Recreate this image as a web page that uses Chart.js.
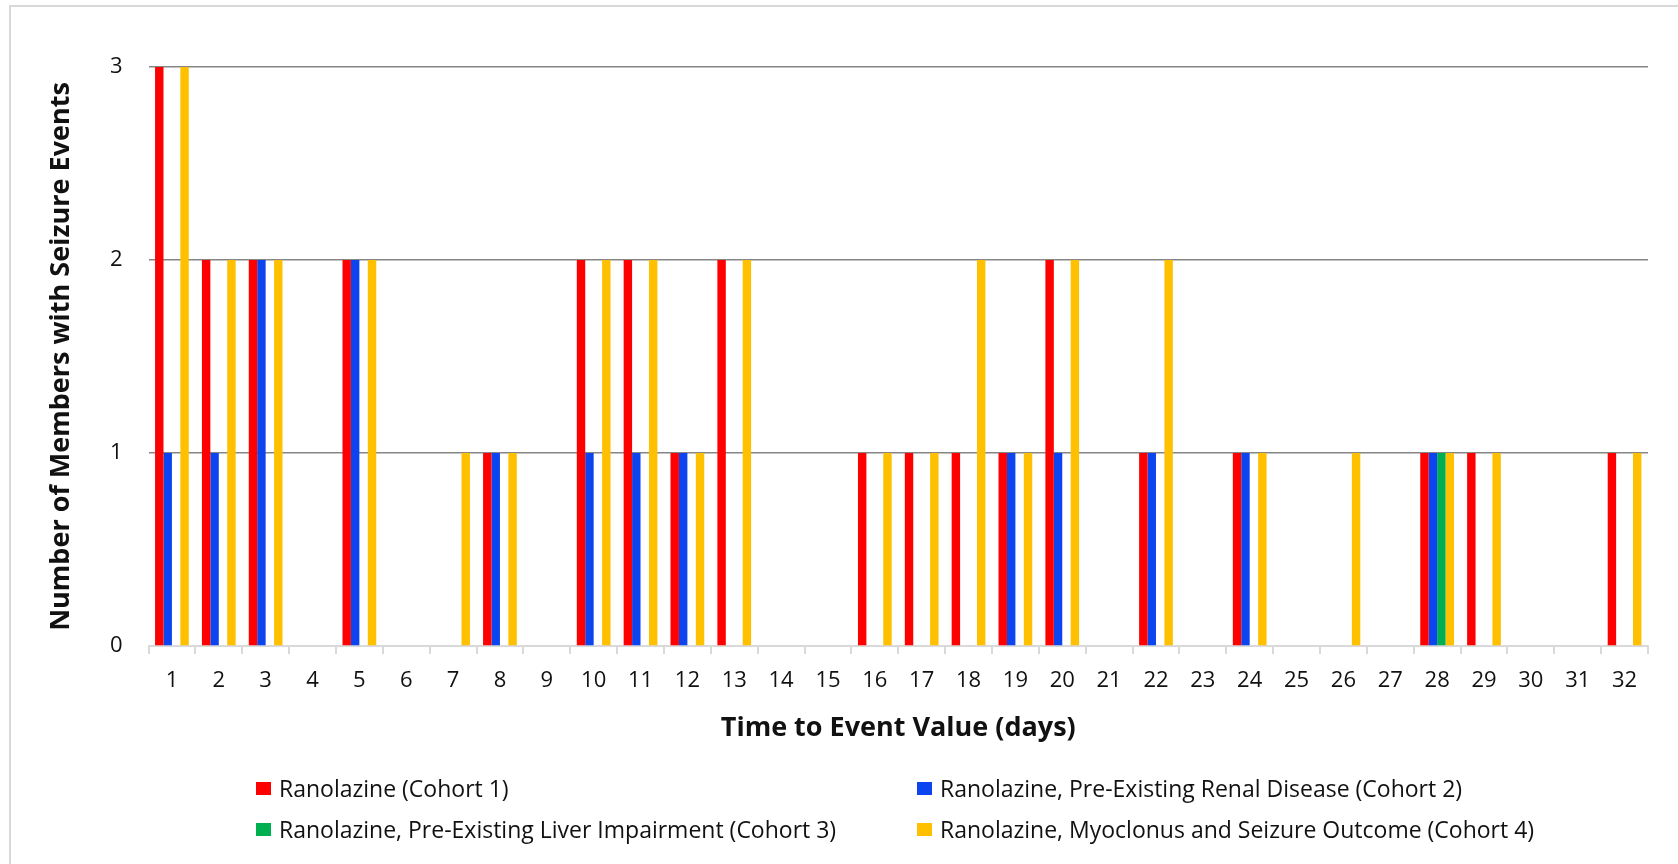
<!DOCTYPE html>
<html>
<head>
<meta charset="utf-8">
<script src="https://cdn.jsdelivr.net/npm/chart.js@4.4.1/dist/chart.umd.min.js"></script>
<style>
  html, body { margin: 0; padding: 0; background: #fff; }
  #wrap { position: relative; width: 1678px; height: 864px; overflow: hidden; }
  #frame { position: absolute; left: 9px; top: 5px; right: -10px; bottom: -10px;
           border-left: 2px solid #d9d9d9; border-top: 2px solid #d9d9d9; }
  #chart { position: absolute; left: 0; top: 0; }
  #legend { position: absolute; left: 256px; top: 773px;
            display: grid; grid-template-columns: 661px auto; grid-auto-rows: 41px;
            font-family: "Open Sans", sans-serif; font-size: 23px; color: #111; }
  .item { display: flex; align-items: center; height: 30px; white-space: nowrap; }
  .swatch { width: 15px; height: 13px; margin-right: 8px; flex: none; }
</style>
</head>
<body>
<div id="wrap">
  <div id="frame"></div>
  <canvas id="chart" width="1678" height="864"></canvas>
  <div id="legend"></div>
</div>
<script>
(function () {
  'use strict';

  var days = ['1', '2', '3', '4', '5', '6', '7', '8', '9', '10', '11', '12', '13', '14', '15', '16',
              '17', '18', '19', '20', '21', '22', '23', '24', '25', '26', '27', '28', '29', '30', '31', '32'];

  var cohort1 = [3, 2, 2, 0, 2, 0, 0, 1, 0, 2, 2, 1, 2, 0, 0, 1,
                 1, 1, 1, 2, 0, 1, 0, 1, 0, 0, 0, 1, 1, 0, 0, 1];
  var cohort2 = [1, 1, 2, 0, 2, 0, 0, 1, 0, 1, 1, 1, 0, 0, 0, 0,
                 0, 0, 1, 1, 0, 1, 0, 1, 0, 0, 0, 1, 0, 0, 0, 0];
  var cohort3 = [0, 0, 0, 0, 0, 0, 0, 0, 0, 0, 0, 0, 0, 0, 0, 0,
                 0, 0, 0, 0, 0, 0, 0, 0, 0, 0, 0, 1, 0, 0, 0, 0];
  var cohort4 = [3, 2, 2, 0, 2, 0, 1, 1, 0, 2, 2, 1, 2, 0, 0, 1,
                 1, 2, 1, 2, 0, 2, 0, 1, 0, 1, 0, 1, 1, 0, 0, 1];

  var seriesNames = [
    'Ranolazine (Cohort 1)',
    'Ranolazine, Pre-Existing Renal Disease (Cohort 2)',
    'Ranolazine, Pre-Existing Liver Impairment (Cohort 3)',
    'Ranolazine, Myoclonus and Seizure Outcome (Cohort 4)'
  ];
  var seriesColors = [
    '#ff0000', //(red)
    '#0c44f0', //(blue)
    '#00b050', //(green)
    '#ffc000'  //(yellow)
  ];

  var yTicks = [0, 1, 2, 3];

  var fontFamily = '"Open Sans", sans-serif';

  var seriesData = [cohort1, cohort2, cohort3, cohort4];
  var datasets = seriesData.map(function (values, i) {
    return {
      label: seriesNames[i],
      data: values,
      backgroundColor: seriesColors[i],
      borderWidth: 0,
      categoryPercentage: 0.72,
      barPercentage: 1
    };
  });

  var config = {
    type: 'bar',
    data: { labels: days, datasets: datasets },
    options: {
      responsive: false,
      devicePixelRatio: 1,
      animation: false,
      layout: { padding: { left: 10, top: 67, right: 30, bottom: 112 } },
      plugins: {
        legend: { display: false },
        tooltip: { enabled: false }
      },
      scales: {
        x: {
          grid: {
            offset: true,
            drawOnChartArea: false,
            drawTicks: true,
            tickLength: 8,
            color: '#d9d9d9',
            lineWidth: 2
          },
          border: { display: true, color: '#d9d9d9', width: 2 },
          ticks: {
            padding: 14,
            color: '#111',
            font: { family: fontFamily, size: 22 },
            maxRotation: 0,
            autoSkip: false
          },
          title: {
            display: true,
            text: 'Time to Event Value (days)',
            color: '#111',
            font: { family: fontFamily, size: 27, weight: 'bold' },
            padding: { top: 0, bottom: 7 }
          },
          afterFit: function (scale) { scale.height = 106; }
        },
        y: {
          min: yTicks[0],
          max: yTicks[yTicks.length - 1],
          afterBuildTicks: function (scale) {
            scale.ticks = yTicks.map(function (v) { return { value: v }; });
          },
          grid: {
            drawTicks: false,
            lineWidth: 1.5,
            color: function (ctx) {
              return ctx.tick && ctx.tick.value === 0 ? 'rgba(0,0,0,0)' : '#868686';
            }
          },
          border: { display: false },
          ticks: {
            padding: 26,
            color: '#111',
            font: { family: fontFamily, size: 22 }
          },
          title: {
            display: true,
            text: 'Number of Members with Seizure Events',
            color: '#111',
            font: { family: fontFamily, size: 27, weight: 'bold' },
            padding: { top: 35, bottom: 0 }
          },
          afterFit: function (scale) { scale.width = 138.5; }
        }
      }
    }
  };

  var ctx = document.getElementById('chart').getContext('2d');
  var chart = new Chart(ctx, config);

  // legend as html, two columns like the original
  var legendEl = document.getElementById('legend');
  chart.data.datasets.forEach(function (ds) {
    var item = document.createElement('div');
    item.className = 'item';
    var sw = document.createElement('span');
    sw.className = 'swatch';
    sw.style.background = ds.backgroundColor;
    var txt = document.createElement('span');
    txt.textContent = ds.label;
    item.appendChild(sw);
    item.appendChild(txt);
    legendEl.appendChild(item);
  });
})();
</script>
</body>
</html>
